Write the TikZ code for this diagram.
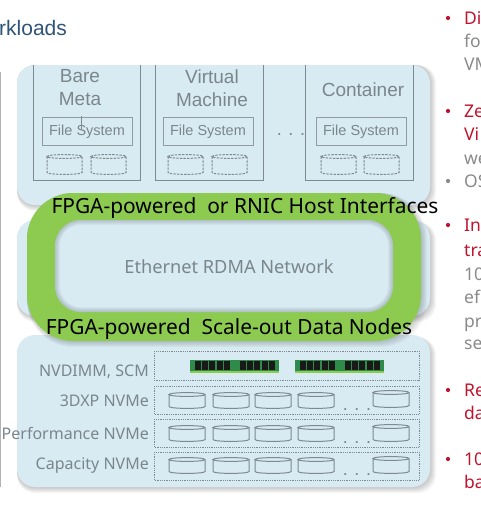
\documentclass[tikz,border=0pt]{standalone}
\usepackage{fontspec}
\setmainfont{Liberation Sans}
\newfontfamily\robo{Noto Sans}
\definecolor{panel}{HTML}{D8EAF2}
\definecolor{ringg}{HTML}{8CCB50}
\definecolor{labelg}{HTML}{7B868C}
\definecolor{lineg}{HTML}{7D8A90}
\definecolor{titleb}{HTML}{2F5478}
\definecolor{redt}{HTML}{C0132C}
\definecolor{greyt}{HTML}{8A8A8A}
\definecolor{ramg}{HTML}{2E8B4A}
\tikzset{
 x=1pt,y=-1pt,
 panelbox/.style={fill=panel,draw=none,rounded corners=18pt},
 shade1/.style={fill=black,fill opacity=0.035,draw=none,rounded corners=18pt},
 wbox/.style={draw=lineg,line width=0.9pt},
 fsbox/.style={draw=lineg!85,line width=0.7pt,fill=panel,minimum width=90pt,minimum height=28pt,inner sep=0pt,text=labelg,font=\fontsize{14.5}{16}\selectfont},
 wlabel/.style={text=labelg,font=\fontsize{19}{23}\selectfont,align=center,inner sep=0pt},
 rowbox/.style={draw=lineg,densely dotted,line width=0.8pt},
 rowlabel/.style={text=labelg,font=\robo\fontsize{16}{18}\selectfont,anchor=base east,inner sep=0pt},
 fpga/.style={text=black,font=\robo\fontsize{20.9}{24}\selectfont,inner sep=0pt},
 rtxt/.style={font=\robo\fontsize{17.5}{20}\selectfont,anchor=base west,inner sep=0pt},
 dashcyl/.style={draw=lineg,line width=1pt,dash pattern=on 2.4pt off 1.2pt},
 solidcyl/.style={draw=lineg,line width=1pt},
 dotstext/.style={text=labelg,font=\fontsize{18}{18}\selectfont,inner sep=0pt},
}
\newcommand{\cyl}[5][]{%
 \draw[#1] (#2,#3+2.5) -- (#2,#3+#5-2.5) .. controls (#2,#3+#5) and (#2+#4,#3+#5) .. (#2+#4,#3+#5-2.5) -- (#2+#4,#3+2.5)
   .. controls (#2+#4,#3) and (#2,#3) .. (#2,#3+2.5) .. controls (#2,#3+5) and (#2+#4,#3+5) .. (#2+#4,#3+2.5);}
\newcommand{\ram}[1]{%
 \fill[ramg] (#1,360) rectangle ++(89,10.5);
 \fill[ringg] (#1,370.5) rectangle ++(89,2.5);
 \foreach \i in {0,...,4}{\fill[black!90] (#1+5+\i*7.2,361) rectangle ++(6,8.5);}
 \foreach \i in {0,...,4}{\fill[black!90] (#1+50+\i*7.2,361) rectangle ++(6,8.5);}
}
\begin{document}
\begin{tikzpicture}
\useasboundingbox (0,0) rectangle (480,506);
\clip (0,0) rectangle (480,506);
\fill[white] (0,0) rectangle (480,506);
\draw[gray!60,line width=1pt] (0,72) -- (0,487);
\node[text=titleb,font=\fontsize{21}{24}\selectfont,anchor=base west,inner sep=0pt] (title) at (-1,35) {rkloads};
\foreach \k in {6,5,4,3,2,1}{
 \fill[shade1] (17,65) rectangle (430+\k,205+\k);
 \fill[shade1] (17,222) rectangle (430+\k,316+\k);
 \fill[shade1] (17,337) rectangle (430+\k,487+\k);
}
\fill[panelbox] (17,65) rectangle (430,205);
\fill[panelbox] (17,220) rectangle (430,316);
\fill[panelbox] (17,335) rectangle (430,487);
\draw[wbox] (33,65) -- (33,180) -- (140,180) -- (140,65);
\draw[wbox] (155,65) -- (155,180) -- (263,180) -- (263,65);
\draw[wbox] (305,65) -- (305,180) -- (413,180) -- (413,65);
\node[wlabel] (bm) at (80,88) {Bare\\Meta};
\node[wlabel] (vm) at (212,88) {Virtual\\Machine};
\node[wlabel] (ct) at (363,90) {Container};
\node[fsbox] (fs1) at (87,131.5) {File System};
\node[fsbox] (fs2) at (208,131.5) {File System};
\node[fsbox] (fs3) at (361,131.5) {File System};
\draw[lineg,line width=1pt] (81,116) -- (81,129);
\foreach \a in {47,91,168,212,321,364}{\cyl[dashcyl]{\a}{154}{35}{21}}
\node[dotstext] (dots0) at (291,135) {. . .};
\foreach \k in {6,5,4,3,2,1}{
 \fill[black,fill opacity=0.03,rounded corners=46pt] (27,193) rectangle (421+\k,341+\k);
}
\fill[ringg,rounded corners=46pt] (27,193) rectangle (421,341);
\fill[panel,rounded corners=26pt] (55,220) rectangle (393,312);
\begin{scope}
 \clip[rounded corners=26pt] (55,220) rectangle (393,312);
 \foreach \k in {1,...,6}{
  \draw[lineg,draw opacity=0.08,line width=\k*1.6pt,rounded corners=26pt] (55,220) rectangle (393,312);
 }
\end{scope}
\node[text=labelg,font=\robo\fontsize{18.2}{20}\selectfont,inner sep=0pt] (net) at (229,267) {Ethernet RDMA Network};
\node[fpga] (f1) at (245,208) {FPGA-powered\ \ or RNIC Host Interfaces};
\node[fpga] (f2) at (229,329) {FPGA-powered\ \ Scale-out Data Nodes};
\draw[rowbox] (154,351) rectangle (419,380);
\draw[rowbox] (154,386) rectangle (419,414);
\draw[rowbox] (154,419) rectangle (419,447);
\draw[rowbox] (154,452) rectangle (419,480);
\node[rowlabel] (l1) at (149,376) {NVDIMM, SCM};
\node[rowlabel] (l2) at (149,406) {3DXP NVMe};
\node[rowlabel] (l3) at (149,439) {Performance NVMe};
\node[rowlabel] (l4) at (149,469) {Capacity NVMe};
\ram{190}
\ram{295}
\foreach \yy/\yl in {392/390,425/424,457/456}{
 \foreach \a in {169,213,255,298}{\cyl[solidcyl]{\a}{\yy}{36}{17}}
 \cyl[solidcyl]{373}{\yl}{36}{18}
}
\foreach \yy/\nm in {410/d1,443/d2,475/d3}{
 \node[dotstext] (\nm) at (357,\yy) {. . .};
}
\foreach \yy/\col in {18/redt,111/redt,181/greyt,225/redt,390/redt,459/redt}{
 \fill[\col] (448,\yy) circle (2.1pt);
}
\foreach \yy/\col/\t in {24/redt/Di,47/greyt/fo,70/greyt/VM,117/redt/Ze,140/redt/Vi,164/greyt/we,187/greyt/OS,231/redt/In,256/redt/tra,280/greyt/10,303/greyt/ef,327/greyt/pr,349/greyt/se,396/redt/Re,419/redt/da,465/redt/10,488/redt/ba}{
 \node[rtxt,text=\col] at (464,\yy) {\t};
}
\end{tikzpicture}
\end{document}
